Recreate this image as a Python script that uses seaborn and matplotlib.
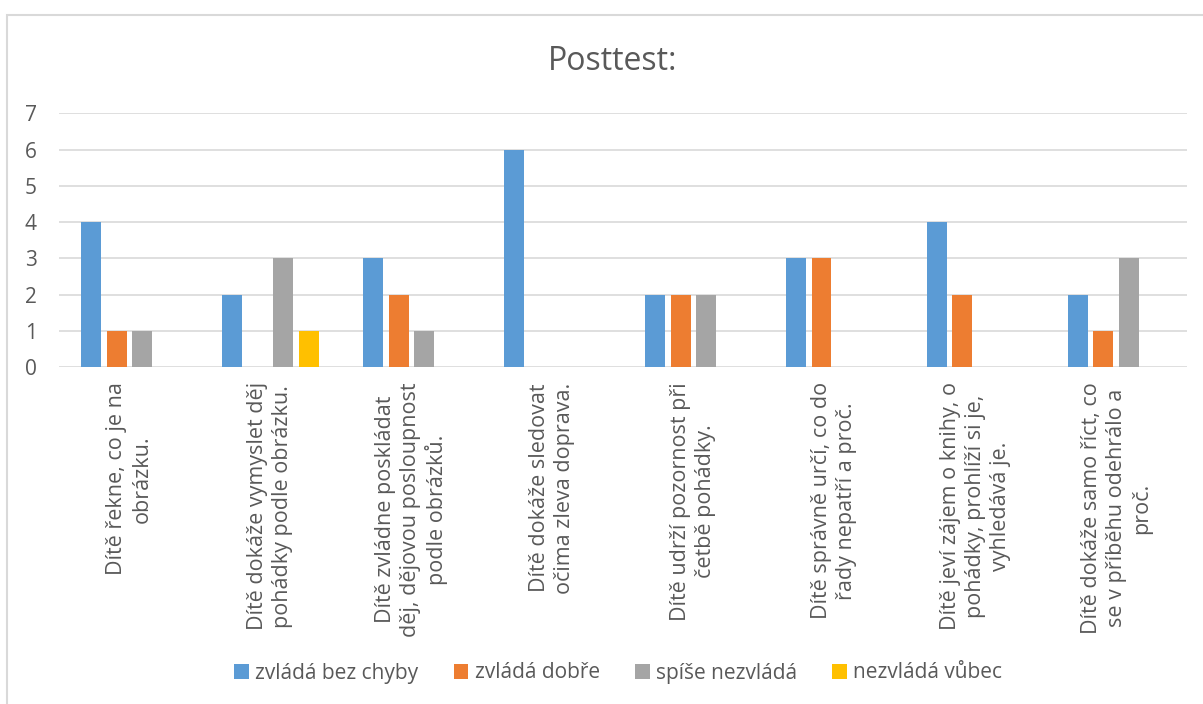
import matplotlib
matplotlib.use("Agg")
import matplotlib.pyplot as plt
import seaborn as sns
import pandas as pd
from matplotlib.patches import Rectangle

categories = [
    "Dítě řekne, co je na\nobrázku.",
    "Dítě dokáže vymyslet děj\npohádky podle obrázku.",
    "Dítě zvládne poskládat\nděj, dějovou posloupnost\npodle obrázků.",
    "Dítě dokáže sledovat\nočima zleva doprava.",
    "Dítě udrží pozornost při\nčetbě pohádky.",
    "Dítě správně určí, co do\nřady nepatří a proč.",
    "Dítě jeví zájem o knihy, o\npohádky, prohlíží si je,\nvyhledává je.",
    "Dítě dokáže samo říct, co\nse v příběhu odehrálo a\nproč.",
]
series_names = ["zvládá bez chyby", "zvládá dobře", "spíše nezvládá", "nezvládá vůbec"]
bez_chyby = [4, 2, 3, 6, 2, 3, 4, 2]
dobre = [1, 0, 2, 0, 2, 3, 2, 1]
spise_nezvlada = [1, 3, 1, 0, 2, 0, 0, 3]
nezvlada_vubec = [0, 1, 0, 0, 0, 0, 0, 0]
y_ticks = [0, 1, 2, 3, 4, 5, 6, 7]
title = "Posttest:"

colors = ["#5B9BD5", "#ED7D31", "#A5A5A5", "#FFC000"]
text_color = "#595959"
grid_color = "#D9D9D9"

rows = []
for name, vals in zip(series_names, [bez_chyby, dobre, spise_nezvlada, nezvlada_vubec]):
    for cat, v in zip(categories, vals):
        rows.append({"kategorie": cat, "hodnota": v, "serie": name})
df = pd.DataFrame(rows)

sns.set_theme(style="white")
plt.rcParams["font.family"] = ["Open Sans", "DejaVu Sans"]

fig = plt.figure(figsize=(12.03, 7.04), dpi=100)
ax = fig.add_axes([0.049, 0.4787, 0.9375, 0.3601])

sns.barplot(data=df, x="kategorie", y="hodnota", hue="serie", order=categories,
            hue_order=series_names, palette=colors, width=0.727, gap=0.22,
            linewidth=0, errorbar=None, ax=ax, legend=True, saturation=1)

handles, labels = ax.get_legend_handles_labels()
ax.get_legend().remove()

ax.set_ylim(0, 7)
ax.set_xlim(-0.5, len(categories) - 0.5)
ax.set_yticks(y_ticks)
ax.set_yticklabels([str(t) for t in y_ticks])
ax.set_xlabel("")
ax.set_ylabel("")
for s in ax.spines.values():
    s.set_visible(False)
ax.set_axisbelow(True)
ax.yaxis.grid(True, color=grid_color, linewidth=1.2)
ax.tick_params(axis="both", length=0)
ax.tick_params(axis="y", pad=16, labelsize=15, labelcolor=text_color)
ax.tick_params(axis="x", pad=11, labelsize=15.5, labelcolor=text_color)
for lab in ax.get_xticklabels():
    lab.set_rotation(90)
    lab.set_ha("center")
    lab.set_va("top")
    lab.set_multialignment("center")
    lab.set_linespacing(1.25)

fig.text(0.5096, 1 - 61 / 704, title, ha="center", va="center",
         fontsize=23, color=text_color)

leg = fig.legend(handles, labels, loc="center", bbox_to_anchor=(0.514, 1 - 673 / 704),
                 ncol=4, frameon=False, fontsize=15, handlelength=0.7,
                 handleheight=0.7, handletextpad=0.3, columnspacing=1.7)
for t in leg.get_texts():
    t.set_color(text_color)

fig.patches.append(Rectangle((7 / 1203, -0.05), 1.2, 1 - 15 / 704 + 0.05,
                             transform=fig.transFigure, fill=False,
                             edgecolor=grid_color, linewidth=1.5, zorder=0))

fig.savefig("out.png", dpi=100)
